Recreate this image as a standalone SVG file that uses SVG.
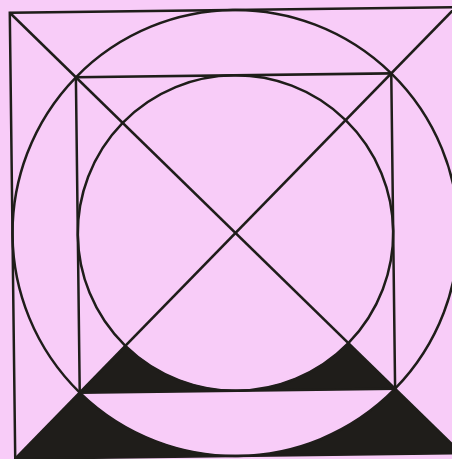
<svg xmlns="http://www.w3.org/2000/svg" width="452" height="459" viewBox="0 0 452 459">
  <style>
    .ln { fill: none; stroke: #1f1d1a; stroke-width: 2.5; stroke-linejoin: miter; }
    .blk { fill: #1f1d1a; stroke: #1f1d1a; stroke-width: 1; }
  </style>
  <rect x="0" y="0" width="452" height="459" fill="#f8ccf8"/>
  <g id="figure" transform="translate(235.5 233) rotate(-0.7)">
    <g id="fills">
      <path class="blk" d="M -111.5 111.5 L -157.7 157.7 L 157.7 157.7 L 111.5 111.5 A 157.7 157.7 0 0 1 -111.5 111.5 Z"/>
      <path class="blk" d="M -157.7 157.7 L -223 223 L 223 223 L 157.7 157.7 A 223 223 0 0 1 -157.7 157.7 Z"/>
    </g>
    <g id="outer-square"><rect class="ln" x="-223" y="-223" width="446" height="446"/></g>
    <g id="outer-circle"><circle class="ln" cx="0" cy="0" r="223"/></g>
    <g id="inner-square"><rect class="ln" x="-157.7" y="-157.7" width="315.4" height="315.4"/></g>
    <g id="inner-circle"><circle class="ln" cx="0" cy="0" r="157.7"/></g>
    <g id="diagonals">
      <line class="ln" x1="-223" y1="-223" x2="223" y2="223"/>
      <line class="ln" x1="223" y1="-223" x2="-223" y2="223"/>
    </g>
  </g>
</svg>
